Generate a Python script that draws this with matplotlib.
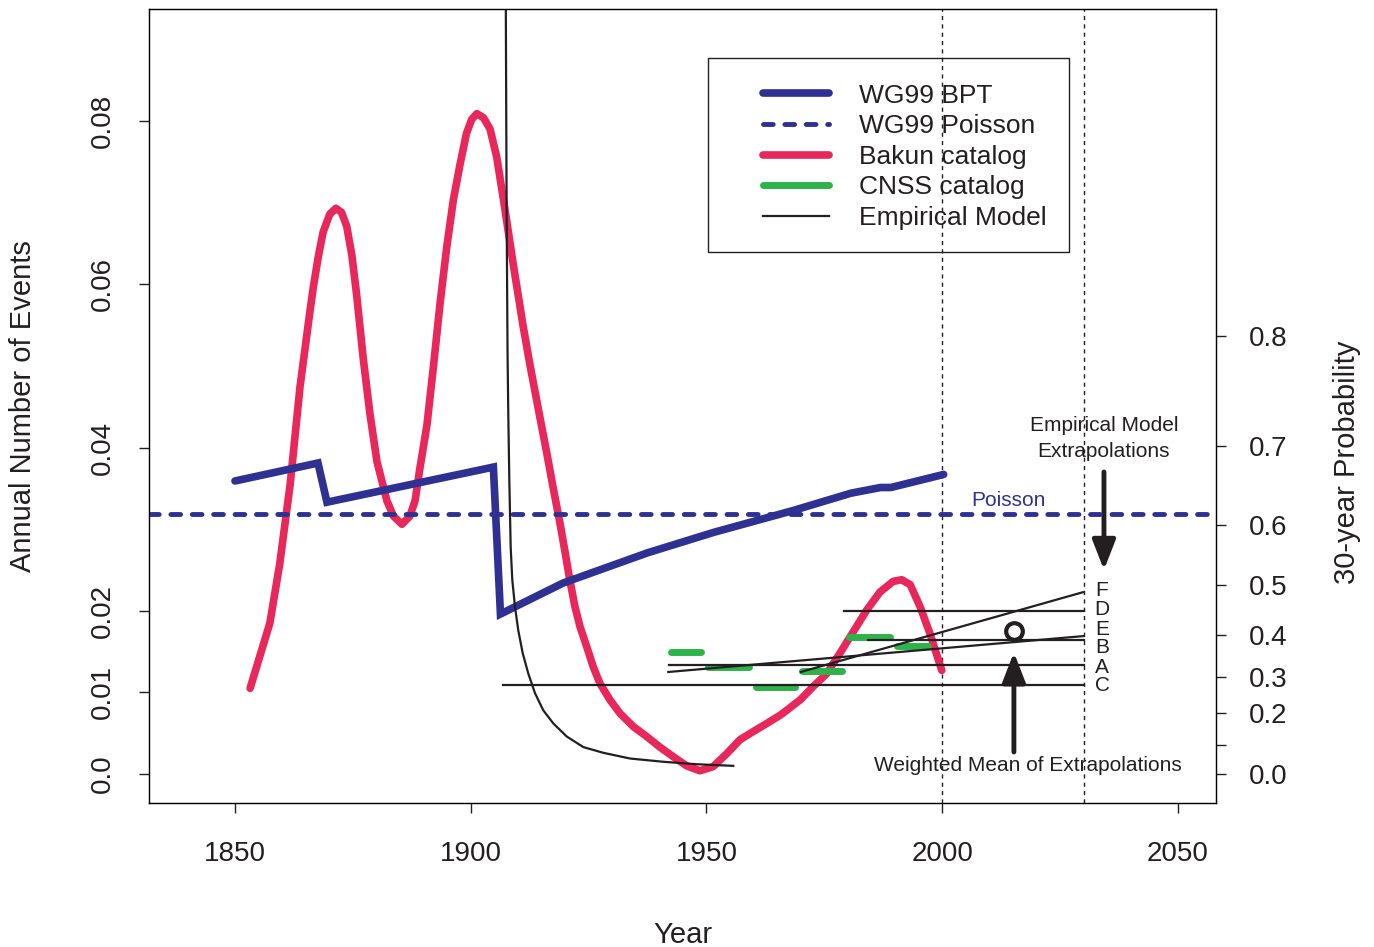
import numpy as np
import matplotlib
matplotlib.use("Agg")
import matplotlib.pyplot as plt
from matplotlib.patches import Rectangle

plt.rcParams['font.family'] = ['Liberation Sans', 'DejaVu Sans']

INK = '#231f20'
BLUE = '#2e3192'
RED = '#e8285a'
GREEN = '#2db34a'

# WG99 BPT annual rate
bpt_year = [1850.0, 1867.6, 1869.5, 1904.8, 1906.3, 1919.6, 1937.5, 1951.5,
            1968.5, 1980.6, 1986.9, 1989.1, 2000.3]
bpt_rate = [0.0359, 0.0381, 0.0333, 0.0376, 0.0196, 0.0234, 0.0271, 0.0296,
            0.0323, 0.0344, 0.0351, 0.0351, 0.0367]

# WG99 Poisson rate
poisson_rate = 0.0319

# Bakun catalog, smoothed rate
bakun_year = [1853.2, 1857.4, 1859.5, 1861.7, 1863.8, 1865.9, 1866.6, 1867.7,
              1868.7, 1870.1, 1871.4, 1872.6, 1873.7, 1874.8, 1875.8, 1877.2,
              1878.6, 1880.1, 1882.2, 1883.6, 1885.4, 1887.1, 1888.2, 1889.2,
              1890.7, 1892.1, 1893.5, 1894.9, 1896.3, 1897.7, 1899.1, 1900.2,
              1901.3, 1902.7, 1904.1, 1905.5, 1906.9, 1909.0, 1911.1, 1912.6,
              1914.7, 1916.1, 1917.5, 1918.9, 1920.0, 1921.0, 1922.1, 1923.2,
              1924.6, 1926.0, 1927.4, 1929.5, 1931.7, 1934.5, 1937.3, 1940.1,
              1943.0, 1945.8, 1948.6, 1951.4, 1954.3, 1957.1, 1959.9, 1962.8,
              1965.6, 1967.0, 1969.9, 1972.6, 1975.5, 1978.3, 1981.1, 1984.0,
              1986.8, 1989.6, 1991.4, 1993.2, 1995.3, 1997.4, 1999.9]
bakun_rate = [0.0105, 0.0185, 0.0258, 0.0355, 0.0475, 0.0567, 0.0596, 0.0635,
              0.0664, 0.0686, 0.0693, 0.0688, 0.0671, 0.0635, 0.0587, 0.0509,
              0.0442, 0.0383, 0.0335, 0.0316, 0.0306, 0.0316, 0.0335, 0.0374,
              0.0427, 0.0500, 0.0577, 0.0645, 0.0703, 0.0746, 0.0785, 0.0802,
              0.0809, 0.0804, 0.0790, 0.0756, 0.0705, 0.0625, 0.0549, 0.0500,
              0.0436, 0.0394, 0.0350, 0.0308, 0.0272, 0.0238, 0.0205, 0.0180,
              0.0156, 0.0131, 0.0111, 0.0091, 0.0074, 0.0058, 0.0046, 0.0033,
              0.0021, 0.0010, 0.0004, 0.0009, 0.0025, 0.0042, 0.0052, 0.0062,
              0.0072, 0.0078, 0.0091, 0.0107, 0.0123, 0.0148, 0.0174, 0.0201,
              0.0223, 0.0236, 0.0238, 0.0232, 0.0205, 0.0172, 0.0127]

# CNSS catalog, rate per interval
cnss_start = [1942.4, 1950.3, 1960.5, 1970.2, 1980.2, 1990.4]
cnss_end = [1948.8, 1959.1, 1968.8, 1978.8, 1989.0, 1996.9]
cnss_rate = [0.0149, 0.0131, 0.0106, 0.0126, 0.0168, 0.0157]

# empirical model (decay after 1906)
emp_year = [1907.4, 1907.6, 1907.8, 1907.96, 1908.18, 1908.47, 1908.81,
            1909.38, 1910.08, 1911.02, 1912.21, 1913.63, 1915.39, 1917.51,
            1920.35, 1923.87, 1928.11, 1933.77, 1940.84, 1947.92, 1955.68]
emp_rate = [0.1000, 0.0700, 0.0520, 0.0442, 0.0360, 0.0278, 0.0238,
            0.0205, 0.0176, 0.0148, 0.0123, 0.0099, 0.0078, 0.0062,
            0.0046, 0.0033, 0.0026, 0.0019, 0.0015, 0.0012, 0.0010]

# extrapolations A-F to 2030
ext_label = ['F', 'D', 'E', 'B', 'A', 'C']
ext_x0 = [1970.0, 1979.1, 1984.2, 1941.9, 1942.0, 1906.8]
ext_y0 = [0.0125, 0.0200, 0.0164, 0.0125, 0.0133, 0.0109]
ext_x1 = [2030.0, 2030.0, 2030.0, 2030.0, 2030.0, 2030.0]
ext_y1 = [0.0223, 0.0200, 0.0164, 0.0169, 0.0133, 0.0109]
ext_label_y = [0.0225, 0.0201, 0.0177, 0.0155, 0.0131, 0.0108]

# weighted mean of the extrapolations
mean_year = 2015.2
mean_rate = 0.0175

# right axis: 30-year probability
prob_ticks = [0.0, 0.1, 0.2, 0.3, 0.4, 0.5, 0.6, 0.7, 0.8]
prob_labels = ['0.0', '', '0.2', '0.3', '0.4', '0.5', '0.6', '0.7', '0.8']

rate_ticks = [0.0, 0.01, 0.02, 0.04, 0.06, 0.08]
rate_labels = ['0.0', '0.01', '0.02', '0.04', '0.06', '0.08']
year_ticks = [1850, 1900, 1950, 2000, 2050]

fig = plt.figure(figsize=(13.74, 9.47), dpi=100)
ax = fig.add_axes([0.10844, 0.15206, 0.77656, 0.83844])

h_bakun, = ax.plot(bakun_year, bakun_rate, color=RED, lw=5.5,
                   solid_capstyle='round', solid_joinstyle='round',
                   label='Bakun catalog', zorder=3)
h_cnss = None
for x0, x1, r in zip(cnss_start, cnss_end, cnss_rate):
    h, = ax.plot([x0, x1], [r, r], color=GREEN, lw=5, solid_capstyle='round',
                 label='CNSS catalog', zorder=3)
    h_cnss = h_cnss or h
h_bpt, = ax.plot(bpt_year, bpt_rate, color=BLUE, lw=5.5,
                 solid_capstyle='round', solid_joinstyle='miter',
                 label='WG99 BPT', zorder=4)
h_poi = ax.axhline(poisson_rate, color=BLUE, lw=3.5, ls=(0, (2.0, 2.4)),
                   dash_capstyle='round', label='WG99 Poisson', zorder=4)
h_emp, = ax.plot(emp_year, emp_rate, color=INK, lw=1.6, label='Empirical Model',
                 zorder=5)

for x0, y0, x1, y1 in zip(ext_x0, ext_y0, ext_x1, ext_y1):
    ax.plot([x0, x1], [y0, y1], color=INK, lw=1.6, zorder=5)
for lab, ly in zip(ext_label, ext_label_y):
    ax.text(2033.9, ly, lab, fontsize=15, color=INK, ha='center', va='center')

ax.plot([mean_year], [mean_rate], marker='o', ms=12, mfc='none', mec=INK,
        mew=3, zorder=6)

for yr in (2000, 2030):
    ax.axvline(yr, color=INK, lw=1, ls=(0, (3, 3)), zorder=1)

ax.text(2014.1, 0.0335, 'Poisson', color=BLUE, fontsize=15,
        ha='center', va='center')
ax.text(2034.3, 0.0411, 'Empirical Model\nExtrapolations', fontsize=15,
        color=INK, ha='center', va='center', linespacing=1.5)
ax.annotate('', xy=(2034.3, 0.0250), xytext=(2034.3, 0.0370),
            arrowprops=dict(arrowstyle='-|>,head_length=0.9,head_width=0.35',
                            lw=3.5, color=INK, shrinkA=0, shrinkB=0,
                            mutation_scale=20))
ax.annotate('', xy=(2015.2, 0.0149), xytext=(2015.2, 0.0027),
            arrowprops=dict(arrowstyle='-|>,head_length=0.9,head_width=0.35',
                            lw=3.5, color=INK, shrinkA=0, shrinkB=0,
                            mutation_scale=20))
ax.text(2018.2, 0.0011, 'Weighted Mean of Extrapolations', fontsize=15,
        color=INK, ha='center', va='center')

ax.set_xlim(1831.76, 2058.06)
ax.set_ylim(-0.00355, 0.09372)
ax.set_xticks(year_ticks)
ax.set_yticks(rate_ticks)
ax.set_yticklabels(rate_labels)
ax.tick_params(direction='out', length=7, width=1, labelsize=20, colors=INK)
ax.tick_params(axis='x', pad=20.5)
ax.tick_params(axis='y', pad=17, labelrotation=90)
for t in ax.get_yticklabels():
    t.set_va('center')
for s in ax.spines.values():
    s.set_color(INK)
    s.set_linewidth(1)
ax.set_xlabel('Year', fontsize=21, color=INK, labelpad=38.5)
ax.set_ylabel('Annual Number of Events', fontsize=21, color=INK, labelpad=38)

# probability axis: P = 1 - exp(-30 * rate)
ax2 = ax.twinx()
ax2.set_ylim(ax.get_ylim())
ax2.set_yticks([-np.log(1 - p) / 30 for p in prob_ticks])
ax2.set_yticklabels(prob_labels)
ax2.tick_params(direction='out', length=7, width=1, labelsize=20, colors=INK,
                pad=17)
ax2.set_ylabel('30-year Probability', fontsize=21, color=INK)
ax2.yaxis.set_label_coords(1.1097, 0.4295)

leg = ax.legend(handles=[h_bpt, h_poi, h_bakun, h_cnss, h_emp],
                loc='upper left', bbox_to_anchor=(0.5755, 0.906),
                frameon=False, fontsize=19, borderpad=0, borderaxespad=0,
                handlelength=2.5, handletextpad=1.15, labelspacing=0.25)
for t in leg.get_texts():
    t.set_color(INK)
ax.add_patch(Rectangle((0.5239, 0.694), 0.3383, 0.2443, transform=ax.transAxes,
                       fill=False, edgecolor=INK, lw=1, zorder=7))

fig.savefig('out.png', dpi=100)
